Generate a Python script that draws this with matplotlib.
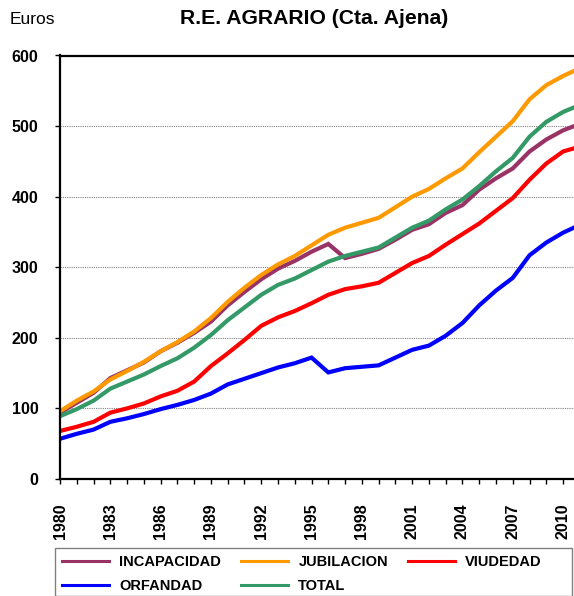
import matplotlib
matplotlib.use("Agg")
import matplotlib.pyplot as plt
from matplotlib.patches import Rectangle
from matplotlib.ticker import MultipleLocator

plt.rcParams["font.family"] = ["Liberation Sans", "DejaVu Sans"]

years = list(range(1980, 2012))

incapacidad = [94, 108, 122, 143, 154, 165, 181, 193, 207, 223, 246, 265, 283, 298, 309, 322,
               333, 313, 319, 326, 339, 353, 361, 377, 388, 410, 426, 440, 464, 481, 494, 503]
jubilacion = [96, 111, 124, 141, 153, 166, 181, 194, 209, 228, 251, 271, 289, 304, 316, 331,
              346, 356, 363, 370, 385, 400, 411, 426, 440, 463, 485, 507, 538, 558, 571, 582]
viudedad = [68, 74, 81, 94, 100, 107, 117, 125, 138, 160, 178, 197, 217, 229, 238, 249,
            261, 269, 273, 278, 292, 306, 316, 332, 347, 362, 380, 398, 424, 447, 464, 471]
orfandad = [57, 64, 70, 81, 86, 92, 99, 105, 112, 121, 134, 142, 150, 158, 164, 172,
            151, 157, 159, 161, 172, 183, 189, 203, 221, 246, 267, 285, 317, 335, 349, 360]
total = [89, 99, 111, 128, 138, 148, 160, 171, 186, 204, 225, 243, 261, 275, 284, 296,
         308, 316, 322, 328, 342, 356, 366, 382, 396, 415, 436, 455, 485, 506, 520, 530]

series = [
    ("INCAPACIDAD", incapacidad, "#993366"),
    ("JUBILACION", jubilacion, "#FF9900"),
    ("VIUDEDAD", viudedad, "#FF0000"),
    ("ORFANDAD", orfandad, "#0000FF"),
    ("TOTAL", total, "#339966"),
]

W, H = 574, 596
fig = plt.figure(figsize=(W / 100, H / 100), dpi=100)
# plot area in pixels: left 60, y=0 at 479, y=600 at 55.5, 16.77 px per year
ax = fig.add_axes([60 / W, (H - 479) / H, 31 * 16.77 / W, (479 - 55.5) / H])

for name, vals, color in series:
    ax.plot(years, vals, color=color, lw=3, label=name, solid_joinstyle="miter")

ax.set_xlim(1980, 2011)
ax.set_ylim(0, 600)
ax.yaxis.set_major_locator(MultipleLocator(100))
ax.set_xticks(list(range(1980, 2012, 3)))
ax.xaxis.set_minor_locator(MultipleLocator(1))
ax.set_xticklabels([str(y) for y in range(1980, 2012, 3)], rotation=90,
                   fontweight="bold", fontsize=11.5)
for lab in ax.get_yticklabels():
    lab.set_fontweight("bold")
    lab.set_fontsize(11.5)

ax.tick_params(axis="x", which="both", direction="out", length=3.5, width=1, pad=14)
ax.tick_params(axis="y", direction="out", length=3.5, width=1, pad=12)

for y in range(100, 600, 100):
    ax.axhline(y, color="#808080", lw=0.8, ls=(0, (1, 1)), zorder=0)

for side in ["left", "bottom", "top", "right"]:
    ax.spines[side].set_linewidth(1.6)
    ax.spines[side].set_color("black")

fig.text(10 / W, 1 - 20 / H, "Euros", fontsize=12.5, va="center", ha="left")
fig.text(314 / W, 1 - 18 / H, "R.E. AGRARIO (Cta. Ajena)", fontsize=15.2,
         fontweight="bold", va="center", ha="center")

# legend frame drawn separately so it spans the full width
fig.patches.append(Rectangle((55 / W, 0), 517 / W, (H - 548) / H, transform=fig.transFigure,
                             fill=False, edgecolor="#808080", lw=1))

handles, labels = ax.get_legend_handles_labels()
order = [0, 3, 1, 4, 2]
leg = fig.legend([handles[i] for i in order], [labels[i] for i in order],
                 loc="upper left", bbox_to_anchor=(55 / W, 1 - 548 / H),
                 ncol=3, frameon=False, borderaxespad=0, handlelength=3.2,
                 handletextpad=0.7, labelspacing=0.7, borderpad=0.5,
                 columnspacing=1.4, prop={"weight": "bold", "size": 10.5})
for line in leg.get_lines():
    line.set_linewidth(2.2)

fig.savefig("out.png", dpi=100)
